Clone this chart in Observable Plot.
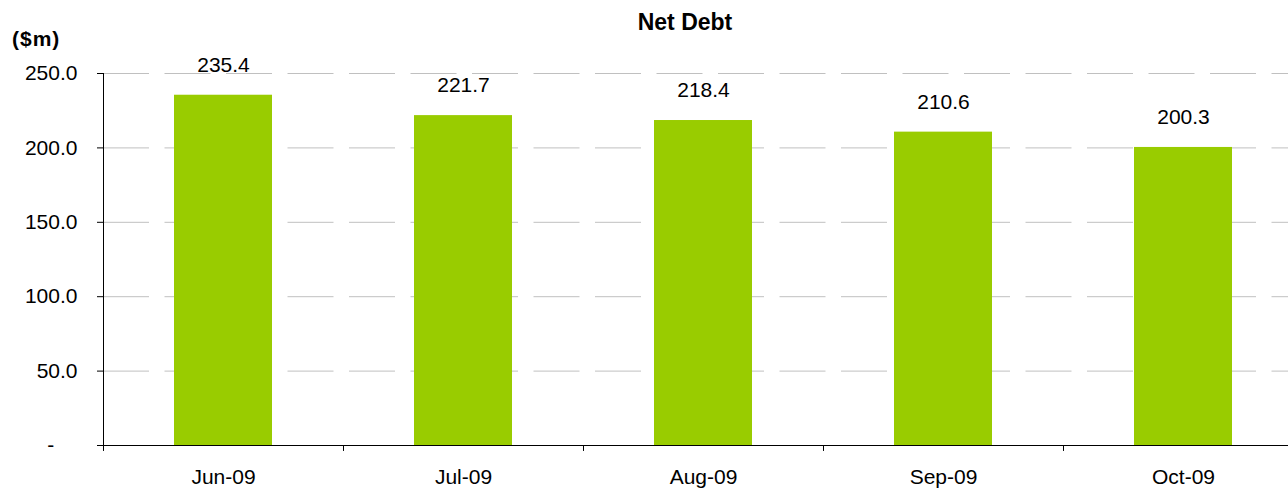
<!DOCTYPE html>
<html>
<head>
<meta charset="utf-8">
<script src="https://cdn.jsdelivr.net/npm/d3@7"></script>
<script src="https://cdn.jsdelivr.net/npm/@observablehq/plot@0.6"></script>
<style>
  body { margin: 0; background: #fff; overflow: hidden; font-family: "Liberation Sans", Arial, sans-serif; color: #000; }
  #head { position: relative; height: 50px; }
  #title { position: absolute; left: 685px; top: 11px; transform: translateX(-50%); font-weight: bold; font-size: 23px; line-height: 1; white-space: nowrap; }
  #unit { position: absolute; left: 12px; top: 28px; font-weight: bold; font-size: 21px; line-height: 1; white-space: nowrap; letter-spacing: 1px; }
</style>
</head>
<body>
<div id="head"><div id="title">Net Debt</div><div id="unit">($m)</div></div>
<div id="chart"></div>
<script>
const months = ["Jun-09", "Jul-09", "Aug-09", "Sep-09", "Oct-09"];
const netDebt = [235.4, 221.7, 218.4, 210.6, 200.3];
const yTicks = [0, 50, 100, 150, 200, 250];

const data = months.map((m, i) => ({month: m, value: netDebt[i]}));
const xRange = [103, 1303];
const step = (xRange[1] - xRange[0]) / months.length;

const chart = Plot.plot({
  width: 1288,
  height: 441,
  marginLeft: 103,
  marginRight: 0,
  marginTop: 23,
  marginBottom: 46,
  style: {fontFamily: '"Liberation Sans", Arial, sans-serif', fontSize: "21px", color: "#000", background: "#fff", overflow: "hidden"},
  x: {type: "band", domain: months, range: xRange, paddingInner: 0.5917, paddingOuter: 0.2958, align: 0.5, label: null},
  y: {domain: [0, 250], label: null},
  marks: [
    Plot.gridY(yTicks.filter(v => v > 0), {stroke: "#c0c0c0", strokeOpacity: 1, strokeDasharray: "46,15.5"}),
    Plot.barY(data, {x: "month", y: "value", fill: "#99cc00"}),
    Plot.ruleY([0], {stroke: "#000"}),
    Plot.ruleX(months.slice(0, 1), {x: d => d, dx: -step / 2, y1: 0, y2: 250, stroke: "#000"}),
    Plot.ruleX(months, {x: d => d, dx: -step / 2, y1: 0, y2: -4, stroke: "#000"}),
    Plot.axisY(yTicks, {tickSize: 6, tickPadding: 20, fontSize: 21, tickFormat: d => d === 0 ? "-\u00a0\u00a0\u00a0\u00a0" : d.toFixed(1)}),
    Plot.axisX({tickSize: 0, tickPadding: 24, fontSize: 21}),
    Plot.text(data, {x: "month", y: "value", text: d => d.value.toFixed(1), dy: -30, fontSize: 21, fill: "#000"})
  ]
});
document.getElementById("chart").appendChild(chart);
</script>
</body>
</html>
